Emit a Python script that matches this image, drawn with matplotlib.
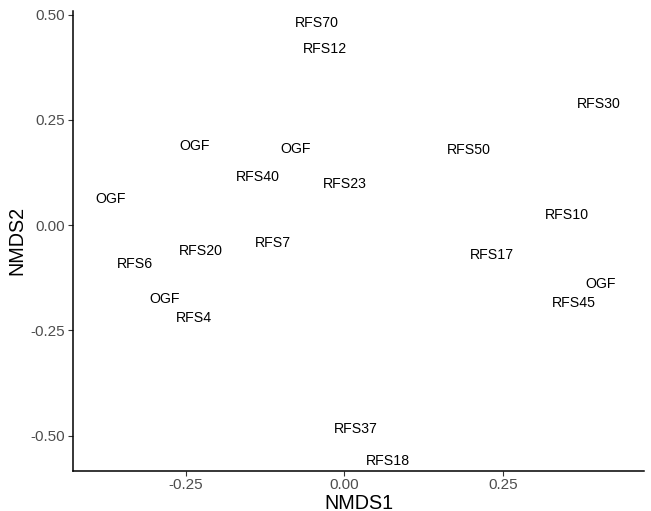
import matplotlib
matplotlib.use('Agg')
import matplotlib.pyplot as plt

plt.rcParams['font.family'] = ['Liberation Sans', 'DejaVu Sans']

# NMDS site scores
sites = ['RFS70', 'RFS12', 'RFS30', 'OGF', 'RFS50', 'RFS40', 'RFS23', 'RFS10',
         'RFS7', 'OGF', 'OGF', 'RFS20', 'RFS6', 'OGF', 'RFS4', 'RFS17', 'OGF',
         'RFS45', 'RFS37', 'RFS18']
nmds1 = [-0.044, -0.031, 0.400, -0.077, 0.196, -0.137, 0.001, 0.350,
         -0.112, -0.236, -0.368, -0.226, -0.330, -0.283, -0.237, 0.232, 0.404,
         0.362, 0.018, 0.068]
nmds2 = [0.481, 0.418, 0.289, 0.182, 0.179, 0.115, 0.098, 0.024,
         -0.042, 0.188, 0.063, -0.061, -0.093, -0.175, -0.220, -0.070, -0.139,
         -0.186, -0.485, -0.560]
xticks = [-0.25, 0.0, 0.25]
yticks = [-0.50, -0.25, 0.0, 0.25, 0.50]

fig = plt.figure(figsize=(6.51, 5.11), dpi=100)
ax = fig.add_axes([73 / 651, 1 - 470.5 / 511, (644 - 73) / 651, (470.5 - 11) / 511])

for name, x, y in zip(sites, nmds1, nmds2):
    ax.text(x, y, name, ha='center', va='center', fontsize=10.2, color='black')

ax.set_xlim(-0.4277, 0.472)
ax.set_ylim(-0.583, 0.509)
ax.set_xticks(xticks)
ax.set_xticklabels(['%.2f' % v for v in xticks])
ax.set_yticks(yticks)
ax.set_yticklabels(['%.2f' % v for v in yticks])

for side in ['top', 'right']:
    ax.spines[side].set_visible(False)
for side in ['left', 'bottom']:
    ax.spines[side].set_linewidth(1.1)
    ax.spines[side].set_color('black')

ax.tick_params(axis='both', length=3.5, width=0.8, color='#333333',
               labelcolor='#4D4D4D', labelsize=11, pad=2)

ax.set_xlabel('NMDS1', fontsize=14.2, labelpad=1)
ax.set_ylabel('NMDS2', fontsize=14.2, labelpad=3)

fig.savefig('out.png', dpi=100)
